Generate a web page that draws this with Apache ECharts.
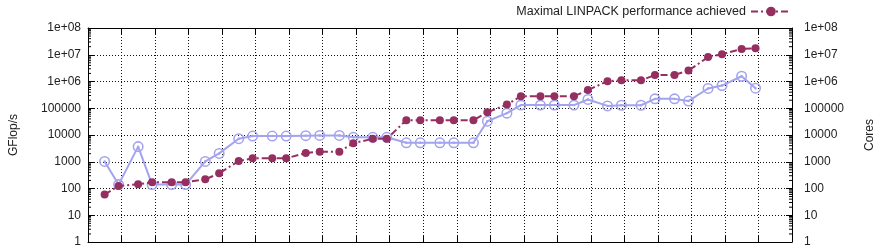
<!DOCTYPE html>
<html>
<head>
<meta charset="utf-8">
<script src="https://cdn.jsdelivr.net/npm/echarts@6/dist/echarts.min.js"></script>
<style>
html,body{margin:0;padding:0;background:#fff;}
#c{width:884px;height:250px;}
</style>
</head>
<body>
<div id="c"></div>
<script>
// TOP500 list dates (June / November lists)
const listDates = [
 '1993-07-01','1993-11-30','1994-07-01','1994-11-30','1995-07-01','1995-11-30',
 '1996-07-01','1996-11-30','1997-07-01','1997-11-30','1998-07-01','1998-11-30',
 '1999-07-01','1999-11-30','2000-07-01','2000-11-30','2001-07-01','2001-11-30',
 '2002-07-01','2002-11-30','2003-07-01','2003-11-30','2004-07-01','2004-11-30',
 '2005-07-01','2005-11-30','2006-07-01','2006-11-30','2007-07-01','2007-11-30',
 '2008-07-01','2008-11-30','2009-07-01','2009-11-30','2010-07-01','2010-11-30',
 '2011-07-01','2011-11-30','2012-07-01','2012-11-30'
];
// Maximal LINPACK performance achieved (GFlop/s)
const rmax = [
 59.7,124.5,143.4,170.4,170.4,170.4,
 220.4,368.2,1068,1338,1338,1338,
 2121,2379,2379,4938,7226,7226,
 35860,35860,35860,35860,35860,70720,
 136800,280600,280600,280600,280600,478200,
 1026000,1105000,1105000,1759000,1759000,2566000,
 8162000,10510000,16324751,17590000
];
// Number of Cores
const cores = [
 1024,140,3680,140,140,140,
 1024,2048,7264,9152,9152,9152,
 9472,9632,9632,8192,8192,8192,
 5120,5120,5120,5120,5120,32768,
 65536,131072,131072,131072,131072,212992,
 122400,129600,129600,224162,224162,186368,
 548352,705024,1572864,560640
];
const yTicks = [1,10,100,1000,10000,100000,1e6,1e7,1e8];
const minorMult = [2,3,4,5,6,7,8,9];
const xMin = 1993, xMax = 2014;

function decYear(s){
  const d = new Date(s + 'T00:00:00Z');
  const y = d.getUTCFullYear();
  const a = Date.UTC(y,0,1), b = Date.UTC(y+1,0,1);
  return y + (d.getTime()-a)/(b-a);
}
const xs = listDates.map(decYear);
const perfData = xs.map((x,i)=>[x, rmax[i]]);
const coreData = xs.map((x,i)=>[x, cores[i]]);
const minorVals = [];
for (let k=0;k<8;k++) for (const m of minorMult) minorVals.push([xMin, m*Math.pow(10,k)]);

function fmt(v){
  if (v >= 1e6) { const e = Math.round(Math.log10(v)); return '1e+' + (e<10?'0':'') + e; }
  return String(Math.round(v));
}
const FONT = 'Liberation Sans, Arial, sans-serif';
const ringDot = 'path://M0,10 A10,10 0 1,1 20,10 A10,10 0 1,1 0,10 Z M2.8,10 A7.2,7.2 0 1,0 17.2,10 A7.2,7.2 0 1,0 2.8,10 Z M7.8,10 A2.2,2.2 0 1,1 12.2,10 A2.2,2.2 0 1,1 7.8,10 Z';
const cMag = '#952f60';
const cLav = '#a3a3ef';

const yAxisBase = {
  type:'log', min:1, max:1e8, logBase:10,
  axisLine:{show:true, lineStyle:{color:'#000', width:1}},
  axisTick:{show:true, inside:true, length:6, lineStyle:{color:'#000', width:1}},
  minorTick:{show:false},
  axisLabel:{color:'#222', fontFamily:FONT, fontSize:12, formatter:fmt},
  nameLocation:'middle', nameRotate:90,
  nameTextStyle:{color:'#222', fontFamily:FONT, fontSize:12}
};
const legendText = {color:'#222', fontFamily:FONT, fontSize:12.5};

const chart = echarts.init(document.getElementById('c'), null, {renderer:'canvas'});
chart.setOption({
  animation:false,
  backgroundColor:'#fff',
  grid:{left:83, right:87, top:28, bottom:8, containLabel:false},
  legend:[
    {data:['Number of Cores'], right:92, top:-12, padding:0, orient:'horizontal', align:'right',
     itemWidth:40, itemHeight:12, textStyle:legendText},
    {data:['Maximal LINPACK performance achieved'], right:92, top:5, padding:0, orient:'horizontal', align:'right',
     itemWidth:40, itemHeight:12, textStyle:legendText}
  ],
  xAxis:[
    {type:'value', min:xMin, max:xMax, interval:1, position:'bottom',
     axisLine:{show:true, onZero:false, lineStyle:{color:'#000', width:1}},
     axisTick:{show:true, inside:true, length:6, lineStyle:{color:'#000'}},
     axisLabel:{show:false},
     splitLine:{show:true, lineStyle:{color:'#111', type:[1,2], width:1}}},
    {type:'value', min:xMin, max:xMax, interval:1, position:'top',
     axisLine:{show:true, onZero:false, lineStyle:{color:'#000', width:1}},
     axisTick:{show:true, inside:true, length:6, lineStyle:{color:'#000'}},
     axisLabel:{show:false}, splitLine:{show:false}}
  ],
  yAxis:[
    Object.assign({}, yAxisBase, {position:'left', name:'GFlop/s', nameGap:68,
      axisLabel:Object.assign({}, yAxisBase.axisLabel, {margin:7}),
      splitLine:{show:true, lineStyle:{color:'#111', type:[1,2], width:1}}}),
    Object.assign({}, yAxisBase, {position:'right', name:'Cores', nameGap:72,
      axisLabel:Object.assign({}, yAxisBase.axisLabel, {margin:12}),
      splitLine:{show:false}})
  ],
  series:[
    {type:'custom', name:'minor', coordinateSystem:'cartesian2d', silent:true, clip:false,
     data:minorVals, z:1,
     renderItem:function(params, api){
       const v = api.value(1);
       const pL = api.coord([xMin, v]);
       const pR = api.coord([xMax, v]);
       return {type:'group', children:[
         {type:'line', shape:{x1:pL[0], y1:pL[1], x2:pL[0]+3, y2:pL[1]}, style:{stroke:'#000', lineWidth:1}},
         {type:'line', shape:{x1:pR[0], y1:pR[1], x2:pR[0]-3, y2:pR[1]}, style:{stroke:'#000', lineWidth:1}}
       ]};
     }},
    {type:'line', name:'Number of Cores', yAxisIndex:1, data:coreData,
     symbol:ringDot, symbolSize:11, symbolKeepAspect:true,
     itemStyle:{color:cLav}, lineStyle:{color:cLav, width:2}, z:3},
    {type:'line', name:'Maximal LINPACK performance achieved', yAxisIndex:0, data:perfData,
     symbol:'circle', symbolSize:8,
     itemStyle:{color:cMag}, lineStyle:{color:cMag, width:2, type:[7,3,2,3]}, z:4}
  ]
});
</script>
</body>
</html>
